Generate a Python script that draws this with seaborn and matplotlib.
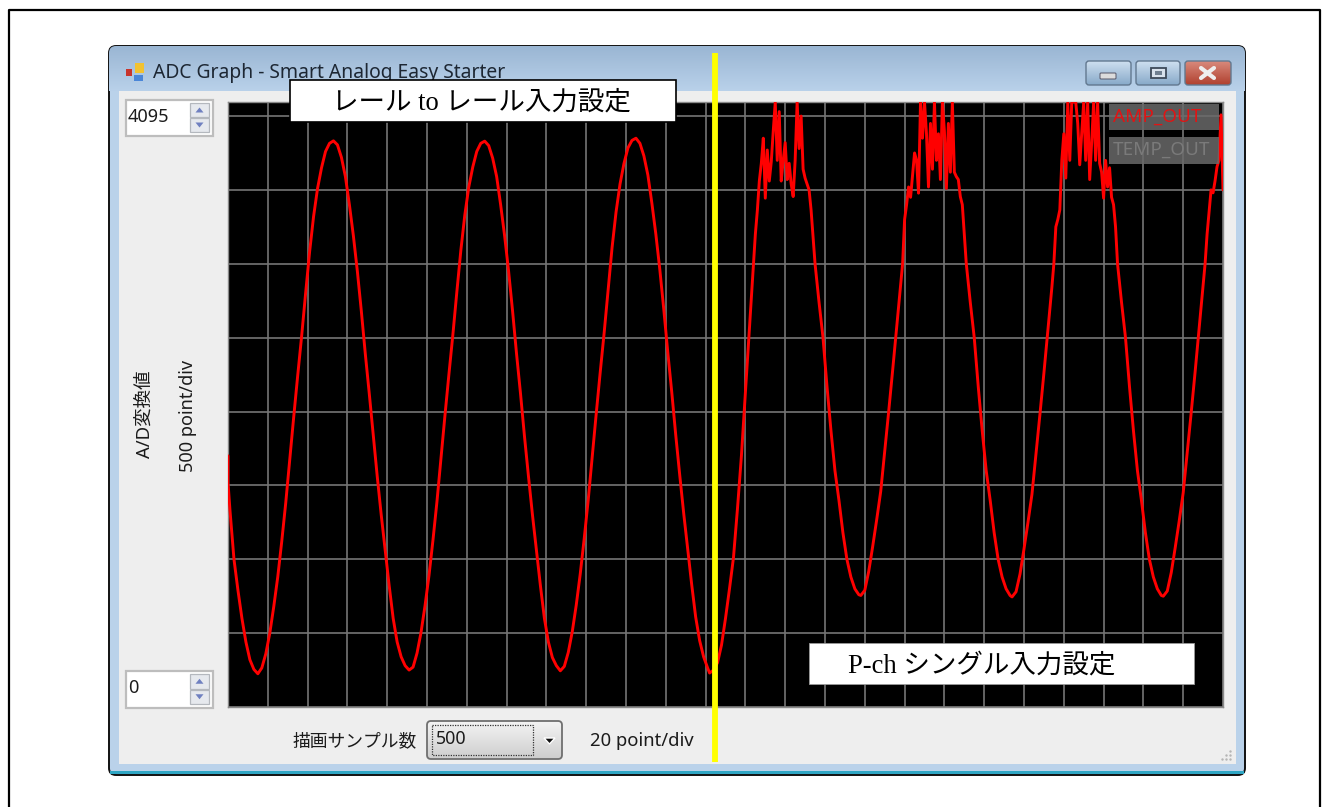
import numpy as np
import pandas as pd
import matplotlib
matplotlib.use("Agg")
import matplotlib.pyplot as plt
import seaborn as sns
from matplotlib.patches import FancyBboxPatch, Rectangle, Polygon

# ------------------------- DATA -------------------------

# rail to rail part, clean cycles
rail_x_1 = [0, 0, 1, 3, 5, 7, 9, 11, 13, 15, 17, 19, 21, 23, 25, 27, 29, 31, 33, 35, 37, 39, 41, 43, 45, 47, 49, 51, 53, 55, 57, 59, 61, 63, 65, 67, 69, 71, 73, 75, 77, 79, 81, 83, 85, 87, 89, 91]
rail_y_1 = [1700, 1520, 1330, 1000, 790, 600, 440, 320, 255, 225, 265, 360, 500, 680, 880, 1120, 1380, 1670, 1960, 2240, 2510, 2800, 3080, 3320, 3510, 3650, 3760, 3815, 3832, 3805, 3720, 3590, 3400, 3190, 2950, 2680, 2390, 2120, 1840, 1560, 1300, 1060, 820, 600, 440, 340, 280, 250]
rail_x_2 = [93, 95, 97, 99, 101, 103, 105, 107, 109, 111, 113, 115, 117, 119, 121, 123, 125, 127, 129, 131, 133, 135, 137, 139, 141, 143, 145, 147, 149, 151, 153, 155, 157, 159, 161, 163, 165, 167]
rail_y_2 = [270, 365, 505, 685, 890, 1130, 1390, 1680, 1970, 2250, 2520, 2810, 3090, 3330, 3520, 3655, 3760, 3815, 3830, 3800, 3715, 3590, 3400, 3190, 2950, 2680, 2390, 2120, 1830, 1560, 1300, 1060, 820, 600, 440, 335, 280, 245]
rail_x_3 = [169, 171, 173, 175, 177, 179, 181, 183, 185, 187, 189, 191, 193, 195, 197, 199, 201, 203, 205, 207, 209, 211, 213, 215, 217, 219, 221, 223, 225, 227, 229, 231, 233, 235, 237, 239, 241, 242]
rail_y_3 = [275, 370, 510, 690, 900, 1140, 1400, 1690, 1980, 2260, 2530, 2820, 3110, 3350, 3540, 3680, 3785, 3835, 3850, 3815, 3730, 3600, 3410, 3200, 2960, 2690, 2400, 2130, 1840, 1570, 1310, 1070, 830, 610, 450, 340, 265, 230]

# P-ch single part, clipped and noisy at the top
pch_x_1 = [244, 246, 248, 250, 252, 254, 256, 258, 260, 262, 264, 265]
pch_y_1 = [250, 300, 420, 600, 800, 1010, 1340, 1700, 2130, 2560, 3000, 3200]
noise_x_1 = [266, 267, 268, 269, 270, 271, 272, 273, 274, 275, 276, 277, 278, 279, 280, 281, 282, 283, 284, 285, 286, 287, 288, 289, 290, 291, 292, 293]
noise_y_1 = [3360, 3560, 3680, 3850, 3444, 3770, 3560, 3690, 3900, 4095, 3700, 4030, 3560, 3700, 3820, 3570, 3680, 3540, 3455, 3700, 4095, 3780, 4000, 3640, 3580, 3540, 3500, 3365]
pch_x_2 = [295, 297, 299, 301, 303, 305, 307, 309, 311, 313, 315, 317, 318, 320, 322, 324, 326, 328, 330, 332, 334, 336, 338, 339, 340]
pch_y_2 = [3000, 2740, 2500, 2170, 1870, 1600, 1400, 1180, 1000, 880, 800, 760, 755, 790, 920, 1090, 1270, 1460, 1730, 2000, 2280, 2570, 2860, 3000, 3300]
noise_x_2 = [341, 342, 343, 344, 345, 346, 347, 348, 349, 350, 351, 352, 353, 354, 355, 356, 357, 358, 359, 360, 361, 362, 363, 364, 365, 366, 367, 368, 369, 370]
noise_y_2 = [3400, 3520, 3450, 3600, 3750, 3700, 3478, 4095, 3850, 4095, 3880, 3520, 3950, 3640, 4095, 3700, 3880, 3570, 4095, 3900, 3510, 3950, 3620, 4095, 3620, 3590, 3570, 3455, 3400, 3200]
pch_x_3 = [371, 373, 375, 377, 379, 381, 383, 385, 387, 389, 391, 393, 394, 396, 398, 400, 402, 404, 406, 408, 410, 412, 414, 415, 416]
pch_y_3 = [3000, 2740, 2500, 2170, 1870, 1600, 1400, 1180, 1000, 880, 800, 755, 745, 780, 900, 1070, 1250, 1440, 1710, 1980, 2260, 2550, 2840, 3000, 3250]
noise_x_3 = [417, 418, 419, 420, 421, 422, 423, 424, 425, 426, 427, 428, 429, 430, 431, 432, 433, 434, 435, 436, 437, 438, 439, 440, 441, 442, 443, 444, 445, 446]
noise_y_3 = [3300, 3365, 3700, 3880, 3580, 4095, 3700, 4095, 4095, 4095, 3950, 3670, 3880, 4095, 3700, 4095, 3570, 3820, 4095, 3700, 4095, 3680, 3620, 3444, 3700, 3520, 3650, 3450, 3400, 3250]
pch_x_4 = [447, 449, 451, 453, 455, 457, 459, 461, 463, 465, 467, 469, 470, 472, 474, 476, 478, 480, 482, 484, 486, 488, 490, 491, 492, 493, 494, 495, 496, 497, 498, 499, 500]
pch_y_4 = [3000, 2740, 2500, 2170, 1870, 1600, 1400, 1180, 1000, 880, 800, 755, 750, 785, 910, 1080, 1260, 1450, 1720, 1990, 2270, 2560, 2850, 3000, 3200, 3350, 3500, 3480, 3560, 3657, 3700, 4008, 3500]

sample_no = rail_x_1 + rail_x_2 + rail_x_3 + pch_x_1 + noise_x_1 + pch_x_2 + noise_x_2 + pch_x_3 + noise_x_3 + pch_x_4
adc_value = rail_y_1 + rail_y_2 + rail_y_3 + pch_y_1 + noise_y_1 + pch_y_2 + noise_y_2 + pch_y_3 + noise_y_3 + pch_y_4

x_ticks = list(range(0, 501, 20))
y_ticks = list(range(0, 4001, 500))

df = pd.DataFrame({"sample": sample_no, "adc": adc_value})

UI_FONT = ["Noto Sans", "Noto Sans CJK JP"]
NOTE_FONT = ["Liberation Serif", "Noto Sans CJK JP"]
W, H = 1327, 807

# ------------------------- FIGURE -------------------------

sns.set_theme(style="dark")
plt.rcParams["font.family"] = UI_FONT
fig = plt.figure(figsize=(W / 100, H / 100), dpi=100, facecolor="white")

# screen-pixel axes for everything that is window chrome
back = fig.add_axes([0, 0, 1, 1], zorder=0)
front = fig.add_axes([0, 0, 1, 1], zorder=2)
for a in (back, front):
    a.set_xlim(0, W)
    a.set_ylim(H, 0)
    a.axis("off")
    a.patch.set_alpha(0)


def box(a, x0, y0, x1, y1, fc, ec="none", lw=1.0, **kw):
    r = Rectangle((x0, y0), x1 - x0, y1 - y0, facecolor=fc, edgecolor=ec, linewidth=lw, **kw)
    a.add_patch(r)
    return r


def gradient(a, x0, y0, x1, y1, top, bottom, clip=None):
    c0 = np.array(matplotlib.colors.to_rgb(top))
    c1 = np.array(matplotlib.colors.to_rgb(bottom))
    t = np.linspace(0, 1, 64)[:, None, None]
    im = a.imshow(c0 + (c1 - c0) * t, extent=(x0, x1, y1, y0), aspect="auto", zorder=2)
    if clip is not None:
        im.set_clip_path(clip)
    a.set_xlim(0, W)
    a.set_ylim(H, 0)
    return im


def rounded(a, x0, y0, x1, y1, fc, ec, lw=1.0, rad=3, zorder=3):
    p = FancyBboxPatch((x0 + rad, y0 + rad), x1 - x0 - 2 * rad, y1 - y0 - 2 * rad,
                       boxstyle=f"round,pad={rad},rounding_size={rad}",
                       facecolor=fc, edgecolor=ec, linewidth=lw, zorder=zorder)
    a.add_patch(p)
    return p


# page frame
back.plot([8.5, 8.5, 1320, 1320], [H, 10, 10, H], color="black", lw=1.6, zorder=1)

# window body
win = rounded(back, 109, 46, 1245, 775, "#bad2ea", "#111111", lw=1.4, rad=7, zorder=1)
gradient(back, 109, 46, 1245, 91, "#9ab6d3", "#b9d1ea", clip=win)
box(back, 110, 771, 1244, 774, "#2fa6c4", zorder=3)
box(back, 119, 91, 1236, 764, "#eeeeee", zorder=3)

# title bar
box(back, 126, 69, 132, 76, "#c8342c", zorder=4)
box(back, 135, 63, 144, 73, "#f2c230", zorder=4)
box(back, 134, 75, 143, 81, "#4a86d8", zorder=4)
back.text(153, 73, "ADC Graph - Smart Analog Easy Starter", fontsize=13.9, color="#1d2733",
          va="center", ha="left", zorder=4)

# caption buttons
for x0, x1, top, bot in [(1086, 1131, "#cfe0f0", "#87a9c9"), (1136, 1180, "#cfe0f0", "#87a9c9"),
                         (1185, 1231, "#d98a7c", "#b0402f")]:
    rb = rounded(back, x0, 61, x1, 85, "none", "#62788f", lw=1.0, rad=3, zorder=5)
    gradient(back, x0, 61, x1, 85, top, bot, clip=rb)
rounded(back, 1100, 73, 1116, 79, "#dcdcdc", "#556", lw=0.7, rad=1, zorder=6)
box(back, 1151, 67.5, 1166, 78, "#d8e2ec", ec="#3d4a59", lw=1.3, zorder=6)
box(back, 1155, 71, 1162, 75, "#6f7f90", zorder=7)
back.plot([1201, 1214], [68, 78], color="#eeeeee", lw=3, zorder=6)
back.plot([1201, 1214], [78, 68], color="#eeeeee", lw=3, zorder=6)

# main plot area, this is the only real data axes
ax = fig.add_axes([228 / W, 1 - 707 / H, 995 / W, 605 / H], zorder=1, facecolor="black")
sns.lineplot(data=df, x="sample", y="adc", estimator=None, sort=False, color="#ff0000",
             linewidth=2.1, ax=ax, zorder=3)
ax.set_xlim(0, 500)
ax.set_ylim(0, 4095)
ax.set_xticks(x_ticks)
ax.set_yticks(y_ticks)
ax.grid(True, color="#757575", linewidth=1.2, zorder=1)
ax.set_axisbelow(True)
ax.tick_params(length=0, labelbottom=False, labelleft=False)
ax.set_xlabel("")
ax.set_ylabel("")
for s in ax.spines.values():
    s.set_color("#8a8a8a")
    s.set_linewidth(1.0)

# channel buttons sit over the grid, see-through
box(front, 1109, 104, 1219, 130, "#6a6a6a", alpha=0.85, zorder=3)
box(front, 1109, 137, 1219, 164, "#6a6a6a", alpha=0.85, zorder=3)
front.text(1113, 117, "AMP_OUT", color="#e01414", fontsize=13.6, va="center", zorder=4)
front.text(1113, 150, "TEMP_OUT", color="#7a7a7a", fontsize=13.6, va="center", zorder=4)


# spin boxes on the left
def spin(y0, y1, label):
    box(front, 125.5, y0, 212.5, y1, "white", ec="#bdbdbd", lw=1.6, zorder=3)
    front.text(128, (y0 + y1) / 2 - 1.5, label, fontsize=13, color="#1b1b1b", va="center", zorder=4)
    mid = y0 + (y1 - y0) / 2 - 1
    for top, bot, up in [(y0 + 3, mid, True), (mid + 1, y1 - 4, False)]:
        box(front, 190, top, 209, bot, "#e6e9ee", ec="#b4b8be", lw=0.9, zorder=4)
        cy = (top + bot) / 2
        d = -2.5 if up else 2.5
        front.add_patch(Polygon([(195.5, cy - d), (203.5, cy - d), (199.5, cy + d)], closed=True,
                                facecolor="#6f80c0", edgecolor="none", zorder=5))


spin(100, 136, "4095")
spin(671, 708, "0")

# rotated captions
front.text(145, 414, "A/D変換値", rotation=90, fontsize=13.3, color="#1b1b1b", ha="center", va="center")
front.text(188, 416, "500 point/div", rotation=90, fontsize=13, color="#1b1b1b", ha="center", va="center")

# bottom row
front.text(416.5, 741, "描画サンプル数", fontsize=12.8, color="#1b1b1b", ha="right", va="center")
combo = rounded(front, 427, 721, 562, 759, "none", "#6f6f6f", lw=1.3, rad=4, zorder=3)
gradient(front, 427, 721, 562, 759, "#f4f4f4", "#cdcdcd", clip=combo)
box(front, 432, 725, 533, 755, "none", ec="#333333", lw=0.9, linestyle=(0, (1, 1)), zorder=4)
front.text(436, 739, "500", fontsize=12.8, color="#1b1b1b", va="center", zorder=5)
front.add_patch(Polygon([(544, 738), (555, 738), (549.5, 744)], closed=True, facecolor="#111111", zorder=5))
front.text(590, 741, "20 point/div", fontsize=13.3, color="#1b1b1b", va="center", zorder=5)

# resize grip
grip_x = [1230, 1230, 1230, 1226, 1226, 1222]
grip_y = [751, 755, 759, 755, 759, 759]
front.scatter(grip_x, grip_y, s=3, color="#b5b5b5", linewidths=0, zorder=5)

# annotation boxes pasted on top of the screenshot
box(front, 290, 79.5, 676, 122, "white", ec="black", lw=1.2, zorder=6)
front.text(481, 103, "レール to レール入力設定", fontsize=19.1, color="black", family=NOTE_FONT,
           ha="center", va="center", zorder=7)
box(front, 809, 643, 1194, 684, "white", ec="#9a9a9a", lw=0.6, zorder=6)
front.text(982, 666, "P-ch シングル入力設定", fontsize=19.1, color="black", family=NOTE_FONT,
           ha="center", va="center", zorder=7)

# yellow divider
front.plot([714.5, 714.5], [53, 762], color="#ffff00", lw=4.2, solid_capstyle="butt", zorder=8)

plt.savefig("out.png", dpi=100)
